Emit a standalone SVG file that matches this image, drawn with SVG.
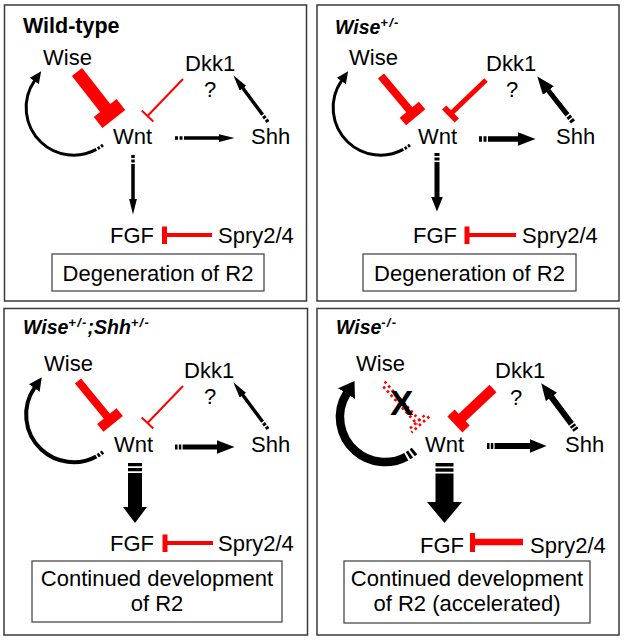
<svg xmlns="http://www.w3.org/2000/svg" width="626" height="640" viewBox="0 0 626 640">
<style>
.frame{fill:none;stroke:#3a3a3a;stroke-width:1.5}
.box{fill:#fff;stroke:#4a4a4a;stroke-width:1.3}
text{font-family:"Liberation Sans",Arial,Helvetica,sans-serif;fill:#000}
.lbl{font-size:22px}
.title{font-size:19.5px;font-weight:bold;font-style:italic}
.sup{font-size:13px;letter-spacing:1.2px}
.act{fill:none;stroke:#000;stroke-linecap:butt}
.inh{fill:none;stroke:#f00;stroke-linecap:butt}
.dot{fill:none;stroke:#f00;stroke-width:2.6;stroke-dasharray:2.6 3}
.head{fill:#000}
</style>
<defs>
<marker id="m1" markerUnits="userSpaceOnUse" markerWidth="16" markerHeight="8" viewBox="0 0 16 8" refX="0.5" refY="4" orient="auto"><path d="M0,0 L16,4 L0,8 z" fill="#000"/></marker>
<marker id="mL1" markerUnits="userSpaceOnUse" markerWidth="12" markerHeight="11" viewBox="0 0 12 11" refX="0.5" refY="5.5" orient="auto"><path d="M0,0 L12,5.5 L0,11 z" fill="#000"/></marker>
<marker id="mL3" markerUnits="userSpaceOnUse" markerWidth="13" markerHeight="13" viewBox="0 0 13 13" refX="0.5" refY="6.5" orient="auto"><path d="M0,0 L13,6.5 L0,13 z" fill="#000"/></marker>
<marker id="mL4" markerUnits="userSpaceOnUse" markerWidth="15" markerHeight="20" viewBox="0 0 15 20" refX="0.5" refY="10" orient="auto"><path d="M0,0 L15,10 L0,20 z" fill="#000"/></marker>
<marker id="m2" markerUnits="userSpaceOnUse" markerWidth="18" markerHeight="14" viewBox="0 0 18 14" refX="0.5" refY="7" orient="auto"><path d="M0,0 L18,7 L0,14 z" fill="#000"/></marker>
<marker id="m2v" markerUnits="userSpaceOnUse" markerWidth="15" markerHeight="12" viewBox="0 0 15 12" refX="0.5" refY="6" orient="auto"><path d="M0,0 L15,6 L0,12 z" fill="#000"/></marker>
<marker id="m4" markerUnits="userSpaceOnUse" markerWidth="17" markerHeight="14" viewBox="0 0 17 14" refX="0.5" refY="7" orient="auto"><path d="M0,0 L17,7 L0,14 z" fill="#000"/></marker>
</defs>
<rect width="626" height="640" fill="#fff"/>

<!-- Panel 1 -->
<g id="panel1">
<rect class="frame" x="4.5" y="5" width="302" height="296"/>
<text x="23" y="33" style="font-size:21.5px;font-weight:bold">Wild-type</text>
<g id="p1-wise"><text class="lbl" x="43" y="65">Wise</text></g>
<g id="p1-dkk1"><text class="lbl" x="185" y="71">Dkk1</text><text class="lbl" x="204" y="97">?</text></g>
<g id="p1-wnt"><text class="lbl" x="113" y="144">Wnt</text></g>
<g id="p1-shh"><text class="lbl" x="251" y="144">Shh</text></g>
<g id="p1-fgf"><text class="lbl" x="110" y="243">FGF</text></g>
<g id="p1-spry"><text class="lbl" x="218" y="243">Spry2/4</text></g>
<g id="p1-outcome"><rect class="box" x="52" y="254" width="212" height="37"/><text class="lbl" x="158" y="281" text-anchor="middle">Degeneration of R2</text></g>
<g id="p1-connectors">
<path class="act" d="M103,145 A47.5,47.5 0 0 1 34.6,80.6" stroke-width="3" stroke-dasharray="2.5 1.5 2.5 1.5 1000" marker-end="url(#mL1)"/>
<path class="act" d="M175,138 H219" stroke-width="3.5" stroke-dasharray="3 1.5 3 1.5 1000" marker-end="url(#m1)"/>
<path class="act" d="M268,122 L242.6,87.8" stroke-width="3.5" stroke-dasharray="3 1.5 3 1.5 1000" marker-end="url(#m1)"/>
<path class="act" d="M133,155 V199" stroke-width="3.5" stroke-dasharray="3 1.5 3 1.5 1000" marker-end="url(#m1)"/>
<line class="inh" x1="77" y1="72" x2="109.5" y2="113.5" stroke-width="13"/>
<line class="inh" x1="120.9" y1="104.6" x2="98.1" y2="122.4" stroke-width="14"/>
<line class="inh" x1="183" y1="79" x2="147.5" y2="116" stroke-width="2"/>
<line class="inh" x1="153.3" y1="121.5" x2="141.7" y2="110.5" stroke-width="2"/>
<path class="inh" d="M212,235 H164.5" stroke-width="4"/>
<path class="inh" d="M164.5,226.5 V244" stroke-width="5"/>
</g>
</g>

<!-- Panel 2 -->
<g id="panel2">
<rect class="frame" x="317" y="5" width="302" height="296"/>
<text class="title" x="335" y="34">Wise<tspan class="sup" dy="-7">+/-</tspan></text>
<g id="p2-wise"><text class="lbl" x="349" y="65">Wise</text></g>
<g id="p2-dkk1"><text class="lbl" x="486" y="71">Dkk1</text><text class="lbl" x="506" y="97">?</text></g>
<g id="p2-wnt"><text class="lbl" x="418" y="144">Wnt</text></g>
<g id="p2-shh"><text class="lbl" x="556" y="144">Shh</text></g>
<g id="p2-fgf"><text class="lbl" x="413" y="243">FGF</text></g>
<g id="p2-spry"><text class="lbl" x="522" y="243">Spry2/4</text></g>
<g id="p2-outcome"><rect class="box" x="363" y="254" width="213" height="37"/><text class="lbl" x="469.5" y="281" text-anchor="middle">Degeneration of R2</text></g>
<g id="p2-connectors">
<path class="act" d="M410,145 A47.5,47.5 0 0 1 341.6,80.6" stroke-width="3" stroke-dasharray="2.5 1.5 2.5 1.5 1000" marker-end="url(#mL1)"/>
<path class="act" d="M479,139 H518" stroke-width="5.5" stroke-dasharray="3 1.5 3 1.5 1000" marker-end="url(#m2)"/>
<path class="act" d="M573,122 L548.1,90.2" stroke-width="5" stroke-dasharray="3 1.5 3 1.5 1000" marker-end="url(#m2)"/>
<path class="act" d="M437,153 V197" stroke-width="5" stroke-dasharray="3 1.5 3 1.5 1000" marker-end="url(#m2v)"/>
<line class="inh" x1="381" y1="76" x2="412.5" y2="113.5" stroke-width="8"/>
<line class="inh" x1="422.1" y1="105.5" x2="402.9" y2="121.5" stroke-width="10"/>
<line class="inh" x1="486" y1="80" x2="450.5" y2="114" stroke-width="5"/>
<line class="inh" x1="456.8" y1="120.5" x2="444.2" y2="107.5" stroke-width="6"/>
<path class="inh" d="M516,235 H467" stroke-width="4"/>
<path class="inh" d="M467,226.5 V244" stroke-width="5"/>
</g>
</g>

<!-- Panel 3 -->
<g id="panel3">
<rect class="frame" x="4" y="308.5" width="303.5" height="326.5"/>
<text class="title" x="23" y="334">Wise<tspan class="sup" dy="-7">+/-</tspan><tspan dy="7">;Shh</tspan><tspan class="sup" dy="-7">+/-</tspan></text>
<g id="p3-wise"><text class="lbl" x="44" y="371">Wise</text></g>
<g id="p3-dkk1"><text class="lbl" x="184" y="378">Dkk1</text><text class="lbl" x="204" y="404">?</text></g>
<g id="p3-wnt"><text class="lbl" x="114" y="452">Wnt</text></g>
<g id="p3-shh"><text class="lbl" x="251" y="452">Shh</text></g>
<g id="p3-fgf"><text class="lbl" x="110" y="551">FGF</text></g>
<g id="p3-spry"><text class="lbl" x="218" y="551">Spry2/4</text></g>
<g id="p3-outcome"><rect class="box" x="32" y="561" width="250" height="61"/><text class="lbl" x="157" y="586" text-anchor="middle">Continued development</text><text class="lbl" x="157" y="611" text-anchor="middle">of R2</text></g>
<g id="p3-connectors">
<path class="act" d="M103,452 A47.5,47.5 0 0 1 34.6,387.6" stroke-width="4" stroke-dasharray="2.5 1.5 2.5 1.5 1000" marker-end="url(#mL3)"/>
<path class="act" d="M175,447 H217" stroke-width="5" stroke-dasharray="2.5 1.3 2.5 1.3 1000" marker-end="url(#m2)"/>
<path class="act" d="M268,429 L242.6,394.8" stroke-width="3.5" stroke-dasharray="3 1.5 3 1.5 1000" marker-end="url(#m1)"/>
<path class="act" d="M135,463 V508" stroke-width="14" stroke-dasharray="3.3 1.7 3.3 1.7 1000"/>
<polygon class="head" points="123,507 147,507 135,523"/>
<line class="inh" x1="78" y1="381" x2="110" y2="420" stroke-width="8"/>
<line class="inh" x1="119.7" y1="412.1" x2="100.3" y2="427.9" stroke-width="10"/>
<line class="inh" x1="183" y1="386" x2="147.5" y2="423" stroke-width="2"/>
<line class="inh" x1="153.3" y1="428.5" x2="141.7" y2="417.5" stroke-width="2"/>
<path class="inh" d="M213,543 H165" stroke-width="4"/>
<path class="inh" d="M165,534.5 V552" stroke-width="5"/>
</g>
</g>

<!-- Panel 4 -->
<g id="panel4">
<rect class="frame" x="317" y="308.5" width="302" height="326.5"/>
<text class="title" x="336" y="334">Wise<tspan class="sup" dy="-7">-/-</tspan></text>
<g id="p4-wise"><text class="lbl" x="356" y="371">Wise</text></g>
<g id="p4-dkk1"><text class="lbl" x="495" y="378">Dkk1</text><text class="lbl" x="510" y="405">?</text></g>
<g id="p4-wnt"><text class="lbl" x="425" y="452">Wnt</text></g>
<g id="p4-shh"><text class="lbl" x="565" y="452">Shh</text></g>
<g id="p4-fgf"><text class="lbl" x="420" y="553">FGF</text></g>
<g id="p4-spry"><text class="lbl" x="530" y="553">Spry2/4</text></g>
<g id="p4-outcome"><rect class="box" x="344" y="561" width="246" height="62"/><text class="lbl" x="467" y="586" text-anchor="middle">Continued development</text><text class="lbl" x="467" y="611" text-anchor="middle">of R2 (accelerated)</text></g>
<g id="p4-connectors">
<path class="act" d="M414.5,451 A45,45 0 0 1 346.8,393.2" stroke-width="8.5" stroke-dasharray="3 2 3 2 1000" marker-end="url(#mL4)"/>
<path class="act" d="M487,446 H530" stroke-width="6" stroke-dasharray="2.5 1.3 2.5 1.3 1000" marker-end="url(#m4)"/>
<path class="act" d="M576,430 L551.1,396.6" stroke-width="6" stroke-dasharray="2.5 1.3 2.5 1.3 1000" marker-end="url(#m4)"/>
<path class="act" d="M444.5,463 V503" stroke-width="18" stroke-dasharray="3.5 1.7 3.5 1.7 1000"/>
<polygon class="head" points="427,502 462,502 444.5,523"/>
<line class="inh" x1="493" y1="388.5" x2="458.5" y2="421" stroke-width="10"/>
<line class="inh" x1="466" y1="429" x2="451" y2="413" stroke-width="10"/>
<path class="inh" d="M523,542 H472.5" stroke-width="6.5"/>
<path class="inh" d="M472.5,533 V552" stroke-width="5"/>
<line class="dot" x1="384.6" y1="381.5" x2="420.6" y2="421.5"/>
<line class="dot" x1="381.4" y1="384.5" x2="417.4" y2="424.5" stroke-dashoffset="2.8"/>
<line class="dot" x1="429.2" y1="416.5" x2="411.4" y2="432.5"/>
<line class="dot" x1="426.6" y1="413.5" x2="408.8" y2="429.5" stroke-dashoffset="2.8"/>
</g>
<text x="390" y="415" style="font-size:35px;font-weight:bold">X</text>
</g>
</svg>
